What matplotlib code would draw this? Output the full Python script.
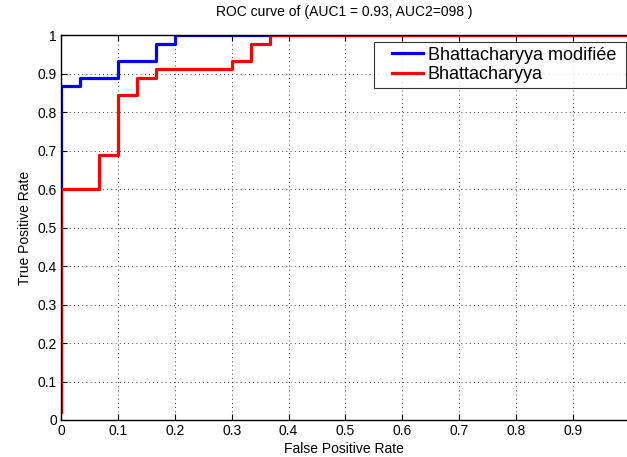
import matplotlib
matplotlib.use("Agg")
import matplotlib.pyplot as plt
from matplotlib.legend_handler import HandlerLine2D

plt.rcParams["font.family"] = ["Liberation Sans", "DejaVu Sans"]

# step points of the two ROC curves (FPR, TPR)
fpr_mod = [0, 0, 0.0333, 0.0333, 0.1, 0.1, 0.1667, 0.1667, 0.2, 0.2, 1.0]
tpr_mod = [0.022, 0.867, 0.867, 0.889, 0.889, 0.933, 0.933, 0.978, 0.978, 1.0, 1.0]

fpr_bh = [0, 0, 0.0667, 0.0667, 0.1, 0.1, 0.1333, 0.1333, 0.1667, 0.1667,
          0.3, 0.3, 0.3333, 0.3333, 0.3667, 0.3667, 1.0]
tpr_bh = [0.022, 0.6, 0.6, 0.689, 0.689, 0.844, 0.844, 0.889, 0.889, 0.911,
          0.911, 0.933, 0.933, 0.978, 0.978, 1.0, 1.0]

labels = ["Bhattacharyya modifiée ", "Bhattacharyya"]
xticks = [0, 0.1, 0.2, 0.3, 0.4, 0.5, 0.6, 0.7, 0.8, 0.9]
yticks = [0, 0.1, 0.2, 0.3, 0.4, 0.5, 0.6, 0.7, 0.8, 0.9, 1]


class RightLine(HandlerLine2D):
    # matlab-style legend: blank gap before the sample line
    def get_xdata(self, legend, xdescent, ydescent, width, height, fontsize):
        x0 = -xdescent + 0.29 * width
        x1 = -xdescent + width
        return [x0, x1], [x0, x1]


fig = plt.figure(figsize=(6.27, 4.57), dpi=100)
ax = fig.add_axes([0.0973, 0.081, 0.9027, 0.842])

ax.plot(fpr_mod, tpr_mod, color="#0000ff", lw=2.3, label=labels[0])
ax.plot(fpr_bh, tpr_bh, color="#ff0000", lw=2.3, label=labels[1])

ax.set_xlim(0, 0.995)
ax.set_ylim(0, 1)
ax.set_xticks(xticks)
ax.set_xticklabels([f"{v:g}" for v in xticks], fontsize=10)
ax.set_yticks(yticks)
ax.set_yticklabels([f"{v:g}" for v in yticks], fontsize=10)
ax.tick_params(direction="in", length=4, width=0.8, top=True, pad=3)
ax.spines["right"].set_visible(False)
for s in ["left", "bottom", "top"]:
    ax.spines[s].set_linewidth(1.0)

ax.grid(True, color="black", linestyle=(0, (1, 4)), lw=0.6)

ax.set_xlabel("False Positive Rate", fontsize=10, labelpad=2.5)
ax.set_ylabel("True Positive Rate", fontsize=10, labelpad=4)
ax.set_title("ROC curve of (AUC1 = 0.93, AUC2=098 )", fontsize=10, pad=14)

leg = ax.legend(loc="upper right", bbox_to_anchor=(0.998, 0.982),
                fontsize=13, frameon=True, fancybox=False,
                edgecolor="black", handlelength=2.42, borderpad=0.25,
                labelspacing=0.15, handletextpad=0.3, borderaxespad=0,
                handler_map={plt.Line2D: RightLine()})
leg.get_frame().set_linewidth(0.8)

fig.savefig("out.png", dpi=100)
